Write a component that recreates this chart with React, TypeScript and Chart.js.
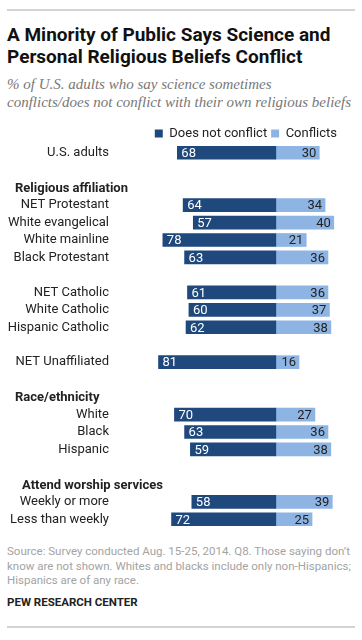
import React, { useEffect, useRef } from 'react';
import { Chart, registerables } from 'chart.js';

Chart.register(...registerables);

const categories = [
  'U.S. adults', '', 'Religious affiliation', 'NET Protestant', 'White evangelical', 'White mainline',
  'Black Protestant', '', 'NET Catholic', 'White Catholic', 'Hispanic Catholic', '', 'NET Unaffiliated', '',
  'Race/ethnicity', 'White', 'Black', 'Hispanic', '', 'Attend worship services', 'Weekly or more', 'Less than weekly',
];
const headerRows = ['Religious affiliation', 'Race/ethnicity', 'Attend worship services'];
const doesNotConflict = [68, null, null, 64, 57, 78, 63, null, 61, 60, 62, null, 81, null, null, 70, 63, 59, null, null, 58, 72];
const conflicts = [30, null, null, 34, 40, 21, 36, null, 36, 37, 38, null, 16, null, null, 27, 36, 38, null, null, 39, 25];
const seriesNames = ['Does not conflict', 'Conflicts'];

const titleLines = ['A Minority of Public Says Science and', 'Personal Religious Beliefs Conflict'];
const subtitleLines = ['% of U.S. adults who say science sometimes', 'conflicts/does not conflict with their own religious beliefs'];
const noteLines = [
  'Source: Survey conducted Aug. 15-25, 2014. Q8. Those saying don\u2019t',
  'know are not shown. Whites and blacks include only non-Hispanics;',
  'Hispanics are of any race.',
];
const credit = 'PEW RESEARCH CENTER';

const DARK = '#1f497d';
const LIGHT = '#8db4e2';
const FONT = 'Roboto, "Liberation Sans", sans-serif';

const labelPlugin = {
  id: 'rowLabels',
  afterDatasetsDraw(chart: any) {
    const ctx = chart.ctx;
    const yScale = chart.scales.y;
    ctx.save();
    ctx.textBaseline = 'middle';
    ctx.font = `bold 13px ${FONT}`;
    ctx.fillStyle = '#222';
    ctx.textAlign = 'left';
    categories.forEach((c, i) => {
      if (headerRows.includes(c)) {
        const x = c.startsWith('Attend') ? 22 : 15;
        ctx.fillText(c, x, yScale.getPixelForValue(i) + 1);
      }
    });
    ctx.font = `13px ${FONT}`;
    chart.data.datasets.forEach((_ds: any, di: number) => {
      const meta = chart.getDatasetMeta(di);
      meta.data.forEach((el: any, i: number) => {
        const raw = di === 0 ? doesNotConflict[i] : conflicts[i];
        if (raw == null) return;
        const { x, y } = el.getProps(['x', 'y'], true);
        if (di === 0) {
          ctx.fillStyle = '#fff';
          ctx.textAlign = 'left';
          ctx.fillText(String(raw), x + 4, y + 1);
        } else {
          ctx.fillStyle = '#222';
          ctx.textAlign = 'right';
          ctx.fillText(String(raw), x - 3, y + 1);
        }
      });
    });
    ctx.restore();
  },
};

export default function App() {
  const ref = useRef<HTMLCanvasElement | null>(null);

  useEffect(() => {
    if (!ref.current) return;
    const chart = new Chart(ref.current, {
      type: 'bar',
      data: {
        labels: categories,
        datasets: [
          {
            label: seriesNames[0],
            data: doesNotConflict.map((v) => (v == null ? null : -v)),
            backgroundColor: DARK,
            barThickness: 13,
          },
          {
            label: seriesNames[1],
            data: conflicts,
            backgroundColor: LIGHT,
            barThickness: 13,
          },
        ],
      },
      options: {
        indexAxis: 'y',
        responsive: false,
        animation: false,
        layout: { padding: { left: 0, right: 21, top: 0, bottom: 0 } },
        plugins: {
          legend: {
            position: 'top',
            align: 'end',
            maxHeight: 21,
            labels: {
              boxWidth: 8,
              boxHeight: 8,
              padding: 4,
              color: '#222',
              font: { family: FONT, size: 13 },
            },
          },
          tooltip: { enabled: false },
        },
        scales: {
          x: { stacked: true, min: -100, max: 45, display: false },
          y: {
            stacked: true,
            grid: { display: false, drawTicks: false },
            border: { display: false },
            ticks: {
              padding: 22,
              color: '#222',
              autoSkip: false,
              font: { family: FONT, size: 13 },
              callback: (_v: any, i: number) => (headerRows.includes(categories[i]) ? '' : categories[i]),
            },
            afterFit: (s: any) => {
              s.width = 131;
              s.paddingTop = 0;
              s.paddingBottom = 0;
            },
          },
        },
      } as any,
      plugins: [labelPlugin],
    });
    return () => chart.destroy();
  }, []);

  return (
    <div style={{ position: 'absolute', left: 0, top: 0, width: 362, height: 640, background: '#fff', overflow: 'hidden' }}>
      <div style={{ position: 'absolute', left: 7, top: 9, width: 348, height: 2, background: '#d3d3d3' }} />
      <div style={{ position: 'absolute', left: 7, top: 24, fontFamily: FONT, fontWeight: 'bold', fontSize: 19, lineHeight: '22px', color: '#111', whiteSpace: 'nowrap' }}>
        {titleLines.map((l) => (<div key={l}>{l}</div>))}
      </div>
      <div style={{ position: 'absolute', left: 7, top: 75, fontFamily: '"Liberation Serif", serif', fontStyle: 'italic', fontSize: 15, lineHeight: '18px', color: '#777', whiteSpace: 'nowrap' }}>
        {subtitleLines.map((l) => (<div key={l}>{l}</div>))}
      </div>
      <canvas ref={ref} width={362} height={405} style={{ position: 'absolute', left: 0, top: 123, width: 362, height: 405 }} />
      <div style={{ position: 'absolute', left: 7, top: 544, fontFamily: FONT, fontSize: 11.5, lineHeight: '14.5px', color: '#a3a3a3', whiteSpace: 'nowrap' }}>
        {noteLines.map((l) => (<div key={l}>{l}</div>))}
      </div>
      <div style={{ position: 'absolute', left: 7, top: 595, fontFamily: FONT, fontWeight: 'bold', fontSize: 11.5, lineHeight: '14px', color: '#222', whiteSpace: 'nowrap' }}>
        {credit}
      </div>
      <div style={{ position: 'absolute', left: 7, top: 626, width: 348, height: 2, background: '#d3d3d3' }} />
    </div>
  );
}
